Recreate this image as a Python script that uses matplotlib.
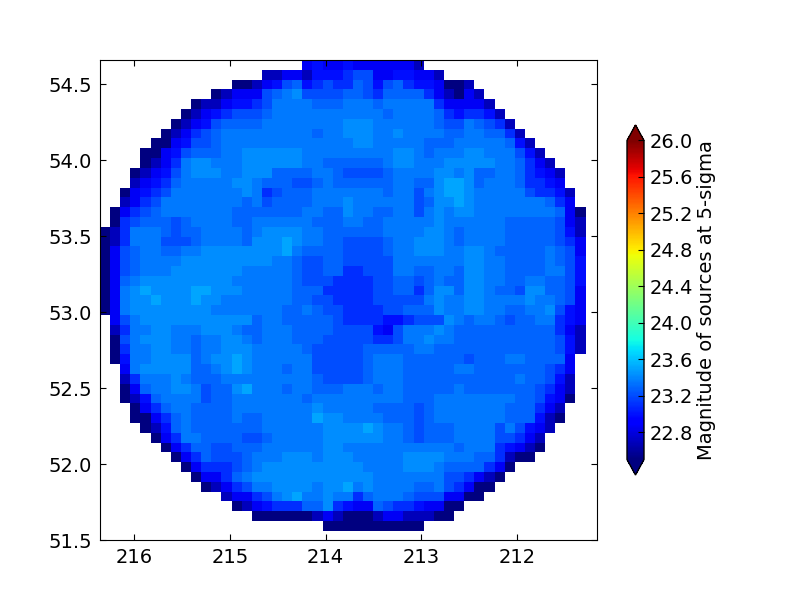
import numpy as np
import matplotlib
matplotlib.use("Agg")
import matplotlib.pyplot as plt
from matplotlib.colors import Normalize

# magnitude represented by each code digit
LEVELS = [22.50, 22.68, 22.86, 22.98, 23.10, 23.20, 23.28, 23.35, 23.42, 23.50]

# first filled column of each row, top row first
ROW_STARTS = [20, 16, 13, 11, 9, 8, 7, 6, 5, 4, 4, 3, 3, 2, 2, 1, 1, 0, 0, 0, 0, 0, 0, 0,
              0, 0, 1, 1, 1, 1, 1, 2, 2, 2, 2, 3, 3, 4, 5, 6, 7, 8, 9, 10, 12, 13, 15, 22]

# coded depth of each cell in the row, left to right
ROW_CODES = [
    "232232222221",
    "112213334552233221",
    "001235634544653564332001",
    "012225678555566546666421021",
    "011233457777666777677777422221",
    "0123455567777777" "7777677776434431",
    "01235666677777777" "88877777765576541",
    "012456777777777677" "888778777766776641",
    "0023556777777777777" "7887777766677777631",
    "00235666778888887777" "77777887677788777531",
    "01247887778888887766" "666678877788888776421",
    "012357888778886666776" "5555677778878667764321",
    "123467777788766655676" "6666677668998677764432",
    "0234577777778745666777" "77776775789987777754431",
    "1245777777776756666777" "87777775688987777777642",
    "02456777777766666667766" "877667757878877777777620",
    "04566656777766777777666" "776677777877777766666521",
    "014777656677776788887766" "666677778876777766666531",
    "014777555677776888987766" "555567788876777766666542",
    "025677667788888888976666" "555567788877887666667652",
    "025677778888888887765566" "555557777777887766667653",
    "025677788888887777765566" "445557766776887766667753",
    "026788888888877777765554" "444556656766887766776653",
    "027898888998887777766644" "444556646886887665886652",
    "027889888988777777766554" "444555557877887777877652",
    "027888888887777777667655" "444455666877887766778532",
    "25788888888888677666665" "444433455587677656677432",
    "14778877788876677766665" "555325777876666666666421",
    "05788877677887677766655" "555445778776666666666531",
    "04778877677888777776555" "556666677666666666666531",
    "03778888678898777777555" "55677766666656667766662",
    "2788888667898777677555" "55677766666776666666542",
    "1477787666777777777655" "55677766666666666766531",
    "0267788756689777677666" "77767766666766666665421",
    "0136777756677777776777" "77777766677777777665320",
    "024677666677777777877" "7776666567777777666421",
    "002467666676677777988" "7777666567777777666310",
    "01367666666677777788" "889877656667777575321",
    "0247766665567777788" "88887765666777755421",
    "024665566677777788" "77777777777677743210",
    "02465556777888788" "8777778888777664100",
    "0244456788888888" "88777788876666420",
    "022467888888888" "8887777777554210",
    "01245778888788" "978777766754200",
    "122457897787" "74677765552200",
    "01234446684" "322654432200",
    "000000121" "00012211100",
    "0000000000",
]

X_TICKS = [216, 215, 214, 213, 212]
Y_TICKS = [52.0, 52.5, 53.0, 53.5, 54.0, 54.5, 51.5]
CB_TICKS = [22.8, 23.2, 23.6, 24.0, 24.4, 24.8, 25.2, 25.6, 26.0]
CB_LABEL = "Magnitude of sources at 5-sigma"

N = 48
grid = np.full((N, N), np.nan)
for r, (start, codes) in enumerate(zip(ROW_STARTS, ROW_CODES)):
    for k, ch in enumerate(codes):
        grid[r, start + k] = LEVELS[int(ch)]
grid = np.ma.masked_invalid(grid)

plt.rcParams.update({"font.family": "DejaVu Sans", "font.size": 14,
                     "xtick.direction": "in", "ytick.direction": "in",
                     "xtick.top": True, "ytick.right": True,
                     "xtick.major.size": 4, "ytick.major.size": 4,
                     "xtick.major.pad": 6, "ytick.major.pad": 6})

fig = plt.figure(figsize=(8, 6), dpi=100)
ax = fig.add_axes([0.125, 0.1, 0.62125, 0.8])

x_left, x_right = 216.355, 211.165
y_bot, y_top = 51.5, 54.658
x_edges = np.linspace(x_left, x_left - 48 * 10.12 / 95.8, N + 1)
y_edges = np.linspace(y_top, y_top - 48 * 9.81 / 152.0, N + 1)

norm = Normalize(vmin=22.5, vmax=26.0)
mesh = ax.pcolormesh(x_edges, y_edges, grid, cmap="jet", norm=norm)
ax.set_xlim(x_left, x_right)
ax.set_ylim(y_bot, y_top)
ax.set_xticks(X_TICKS)
ax.set_xticklabels([str(t) for t in X_TICKS])
ax.set_yticks(Y_TICKS)
ax.set_yticklabels([f"{t:.1f}" for t in Y_TICKS])

cax = fig.add_axes([627 / 800, 125 / 600, 17 / 800, 350 / 600])
cb = fig.colorbar(mesh, cax=cax, extend="both", extendfrac=17 / 350)
cb.set_ticks(CB_TICKS)
cb.set_ticklabels([f"{t:.1f}" for t in CB_TICKS])
cax.tick_params(direction="in", length=4, right=True, pad=4, labelsize=14)
cb.set_label(CB_LABEL, fontsize=14, labelpad=3)
cb.outline.set_linewidth(1.0)

fig.savefig("out.png", dpi=100)
